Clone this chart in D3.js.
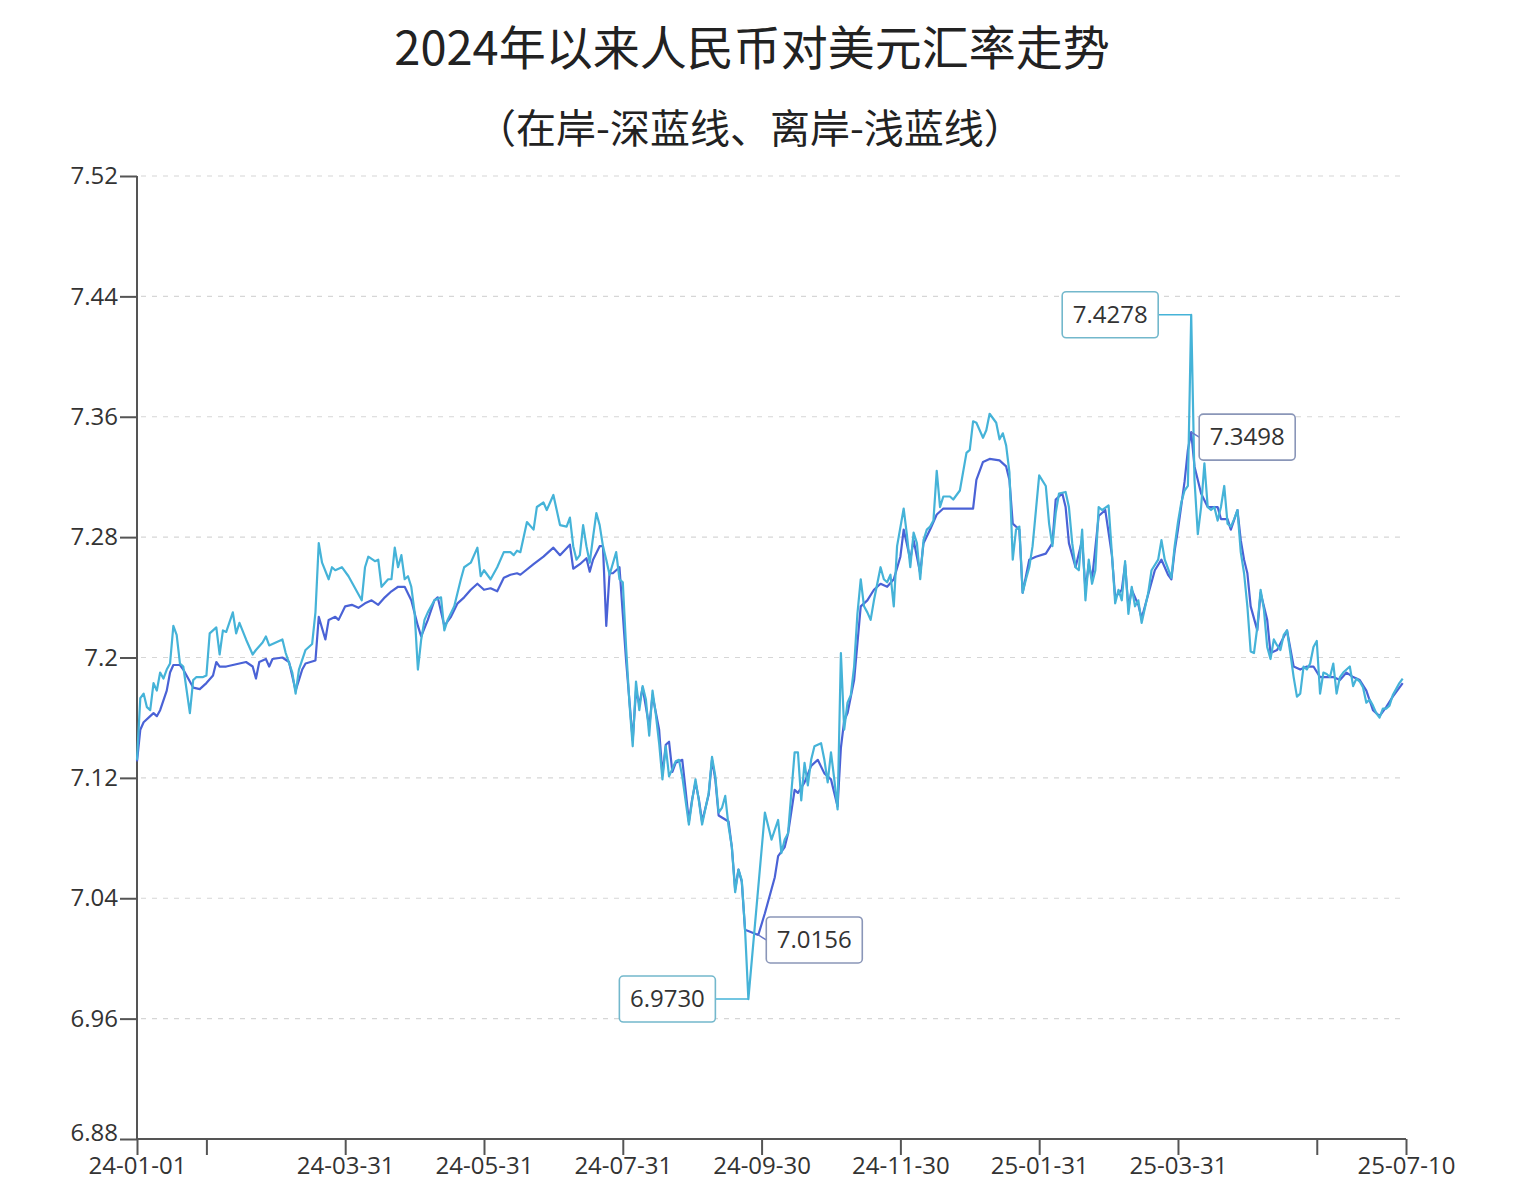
<!DOCTYPE html>
<html>
<head>
<meta charset="utf-8">
<script src="https://cdn.jsdelivr.net/npm/d3@7"></script>
<style>
  body { margin: 0; background: #fff; }
  svg { display: block; }
</style>
</head>
<body>
<svg id="chart"></svg>
<script>
// titles
const titleText = "2024年以来人民币对美元汇率走势";
const subtitleText = "（在岸-深蓝线、离岸-浅蓝线）";

// axis ticks (x in trading-day index since 2024-01-01)
const yTicks = [6.88, 6.96, 7.04, 7.12, 7.2, 7.28, 7.36, 7.44, 7.52];
const xTickDays = [0, 21, 63, 105, 147, 189, 231, 273, 315, 357, 384];
const xTickLabels = ["24-01-01", "", "24-03-31", "24-05-31", "24-07-31", "24-09-30",
  "24-11-30", "25-01-31", "25-03-31", "", "25-07-10"];

// onshore CNY (dark blue): [trading day, rate]
const onshore = [[0,7.131],[1,7.152],[2,7.157],[4,7.161],[5,7.163],[6,7.161],[7,7.165],[9,7.178],[10,7.190],[11,7.195],[13,7.195],[14,7.192],[17,7.180],[19,7.179],[20,7.181],[21,7.183],[23,7.188],[24,7.197],[25,7.194],[27,7.194],[29,7.195],[33,7.197],[35,7.194],[36,7.186],[37,7.197],[39,7.199],[40,7.194],[41,7.199],[44,7.200],[46,7.197],[48,7.178],[50,7.192],[51,7.196],[54,7.198],[55,7.227],[57,7.212],[58,7.225],[60,7.227],[61,7.225],[63,7.234],[65,7.235],[67,7.233],[69,7.236],[71,7.238],[73,7.235],[75,7.240],[77,7.244],[79,7.247],[81,7.247],[83,7.238],[85,7.221],[86,7.214],[88,7.225],[90,7.238],[91,7.240],[93,7.221],[95,7.227],[97,7.236],[99,7.240],[101,7.245],[103,7.249],[105,7.245],[107,7.246],[109,7.244],[111,7.253],[113,7.255],[115,7.256],[116,7.255],[120,7.262],[123,7.267],[126,7.273],[128,7.268],[131,7.275],[132,7.259],[134,7.262],[136,7.266],[137,7.257],[138,7.265],[140,7.274],[141,7.274],[142,7.221],[143,7.256],[144,7.256],[146,7.260],[147,7.229],[148,7.198],[150,7.145],[151,7.178],[152,7.169],[153,7.180],[155,7.154],[156,7.175],[158,7.152],[159,7.122],[160,7.142],[161,7.144],[162,7.124],[163,7.130],[165,7.132],[166,7.112],[167,7.091],[168,7.106],[169,7.117],[170,7.106],[171,7.091],[173,7.109],[174,7.132],[175,7.119],[176,7.095],[179,7.091],[180,7.074],[181,7.046],[182,7.059],[183,7.051],[184,7.019],[188,7.0156],[190,7.030],[192,7.046],[193,7.054],[194,7.068],[196,7.074],[197,7.083],[199,7.112],[200,7.110],[202,7.117],[204,7.128],[206,7.132],[208,7.123],[210,7.119],[212,7.101],[213,7.140],[214,7.158],[215,7.163],[217,7.185],[219,7.234],[221,7.238],[223,7.245],[225,7.249],[227,7.247],[229,7.252],[231,7.267],[232,7.285],[234,7.265],[235,7.278],[237,7.256],[238,7.276],[240,7.285],[242,7.295],[244,7.299],[253,7.299],[254,7.318],[256,7.330],[258,7.332],[261,7.331],[263,7.327],[264,7.318],[265,7.289],[267,7.285],[268,7.243],[270,7.265],[272,7.267],[275,7.269],[277,7.276],[278,7.305],[280,7.309],[281,7.300],[282,7.276],[284,7.260],[286,7.278],[287,7.245],[288,7.262],[289,7.252],[291,7.294],[293,7.298],[295,7.268],[296,7.240],[298,7.245],[299,7.262],[300,7.233],[301,7.245],[303,7.235],[304,7.226],[306,7.242],[308,7.258],[310,7.265],[312,7.255],[313,7.252],[314,7.271],[315,7.285],[316,7.301],[317,7.317],[318,7.338],[319,7.3498],[320,7.327],[322,7.309],[324,7.300],[327,7.300],[328,7.292],[330,7.292],[331,7.285],[333,7.298],[334,7.278],[335,7.265],[336,7.256],[337,7.234],[339,7.218],[340,7.243],[342,7.225],[343,7.203],[345,7.205],[348,7.218],[350,7.194],[352,7.192],[354,7.194],[356,7.194],[358,7.187],[360,7.187],[362,7.187],[364,7.185],[366,7.190],[368,7.187],[370,7.185],[372,7.178],[374,7.165],[376,7.161],[378,7.167],[380,7.174],[383,7.183]];

// offshore CNH (light blue): [trading day, rate]
const offshore = [[0,7.132],[1,7.173],[2,7.176],[3,7.167],[4,7.165],[5,7.183],[6,7.178],[7,7.190],[8,7.186],[9,7.192],[10,7.196],[11,7.221],[12,7.215],[13,7.196],[14,7.194],[16,7.163],[17,7.185],[18,7.187],[20,7.187],[21,7.188],[22,7.216],[24,7.220],[25,7.202],[26,7.218],[27,7.217],[29,7.230],[30,7.216],[31,7.223],[33,7.212],[35,7.202],[36,7.205],[38,7.210],[39,7.214],[40,7.208],[42,7.210],[44,7.212],[45,7.203],[47,7.190],[48,7.176],[49,7.192],[51,7.205],[53,7.209],[54,7.230],[55,7.276],[56,7.263],[58,7.252],[59,7.260],[60,7.258],[62,7.260],[64,7.254],[65,7.250],[68,7.238],[69,7.260],[70,7.267],[72,7.264],[73,7.265],[74,7.247],[76,7.252],[77,7.252],[78,7.273],[79,7.260],[80,7.268],[81,7.252],[82,7.254],[83,7.247],[84,7.230],[85,7.192],[86,7.212],[87,7.225],[88,7.230],[90,7.238],[92,7.240],[93,7.218],[94,7.225],[96,7.234],[98,7.252],[99,7.260],[101,7.263],[103,7.273],[104,7.254],[105,7.258],[107,7.252],[109,7.260],[111,7.270],[113,7.270],[114,7.268],[115,7.271],[116,7.270],[118,7.290],[120,7.285],[121,7.300],[123,7.303],[124,7.298],[126,7.308],[127,7.298],[128,7.288],[130,7.287],[131,7.293],[132,7.274],[133,7.265],[134,7.268],[135,7.288],[136,7.274],[137,7.263],[138,7.280],[139,7.296],[140,7.288],[141,7.274],[142,7.265],[143,7.255],[145,7.270],[146,7.252],[147,7.250],[148,7.207],[149,7.170],[150,7.141],[151,7.184],[152,7.165],[153,7.181],[154,7.172],[155,7.148],[156,7.178],[157,7.162],[158,7.143],[159,7.119],[160,7.141],[161,7.121],[163,7.131],[164,7.132],[165,7.121],[167,7.089],[168,7.105],[169,7.119],[170,7.105],[171,7.089],[173,7.110],[174,7.134],[175,7.121],[176,7.097],[177,7.100],[178,7.108],[179,7.088],[180,7.074],[181,7.044],[182,7.059],[183,7.052],[184,7.019],[185,6.9730],[190,7.097],[191,7.088],[192,7.079],[194,7.092],[195,7.070],[196,7.079],[197,7.083],[199,7.137],[200,7.137],[201,7.105],[202,7.130],[203,7.115],[204,7.132],[205,7.141],[207,7.143],[208,7.132],[209,7.117],[210,7.137],[211,7.119],[212,7.099],[213,7.203],[214,7.152],[215,7.170],[216,7.175],[217,7.194],[218,7.229],[219,7.252],[220,7.234],[221,7.230],[222,7.225],[223,7.238],[225,7.260],[226,7.252],[227,7.250],[228,7.255],[229,7.234],[230,7.274],[232,7.299],[233,7.281],[234,7.260],[235,7.283],[236,7.276],[237,7.252],[238,7.278],[239,7.285],[240,7.287],[241,7.291],[242,7.324],[243,7.300],[244,7.307],[246,7.307],[247,7.305],[249,7.311],[251,7.336],[252,7.338],[253,7.357],[254,7.356],[256,7.346],[257,7.351],[258,7.362],[260,7.356],[261,7.345],[262,7.349],[263,7.341],[264,7.323],[265,7.265],[266,7.285],[267,7.287],[268,7.243],[269,7.252],[270,7.260],[271,7.274],[273,7.321],[275,7.314],[276,7.289],[277,7.274],[278,7.296],[279,7.309],[281,7.310],[282,7.300],[283,7.276],[284,7.260],[285,7.258],[286,7.285],[287,7.238],[288,7.265],[289,7.249],[290,7.258],[291,7.300],[292,7.298],[294,7.301],[295,7.269],[296,7.236],[297,7.245],[298,7.238],[299,7.264],[300,7.229],[301,7.247],[302,7.234],[303,7.238],[304,7.223],[306,7.243],[307,7.258],[309,7.265],[310,7.278],[311,7.265],[313,7.253],[314,7.274],[315,7.290],[316,7.303],[317,7.311],[318,7.314],[319,7.4278],[320,7.318],[321,7.282],[322,7.300],[323,7.329],[324,7.300],[325,7.298],[326,7.300],[327,7.291],[328,7.300],[329,7.314],[330,7.289],[331,7.287],[332,7.292],[333,7.298],[334,7.270],[335,7.256],[336,7.234],[337,7.204],[338,7.203],[339,7.220],[340,7.245],[341,7.232],[342,7.207],[343,7.199],[344,7.212],[345,7.208],[346,7.205],[347,7.215],[348,7.218],[349,7.203],[350,7.187],[351,7.174],[352,7.176],[353,7.194],[354,7.192],[355,7.196],[356,7.207],[357,7.211],[358,7.176],[359,7.190],[360,7.189],[361,7.187],[362,7.196],[363,7.176],[364,7.187],[365,7.190],[366,7.192],[367,7.194],[368,7.181],[369,7.186],[370,7.184],[371,7.180],[372,7.170],[373,7.172],[374,7.168],[375,7.163],[376,7.160],[377,7.166],[378,7.166],[379,7.168],[380,7.175],[381,7.179],[382,7.183],[383,7.186]];

// highlighted extremes
const markLabels = ["6.9730", "7.0156", "7.4278", "7.3498"];
const markDays = [185, 188, 319, 319];
const markValues = [6.9730, 7.0156, 7.4278, 7.3498];
const markSeries = ["offshore", "onshore", "offshore", "onshore"];

const width = 1518, height = 1182;
const plotLeft = 137, plotRight = 1406, plotTop = 176, plotBottom = 1139;
const darkBlue = "#4a62d6", lightBlue = "#45b3d8";
const numFont = "'Open Sans', 'Noto Sans', sans-serif";
const cjkFont = "'Noto Sans CJK SC', 'Noto Sans', sans-serif";

const svg = d3.select("#chart")
  .attr("width", width)
  .attr("height", height)
  .style("background", "#fff");

const x = d3.scaleLinear().domain([0, 384]).range([plotLeft, plotRight]);
const y = d3.scaleLinear().domain([6.88, 7.52]).range([plotBottom, plotTop]);

// title + subtitle
svg.append("text")
  .attr("x", 752).attr("y", 65)
  .attr("text-anchor", "middle")
  .style("font-family", cjkFont)
  .style("font-size", "47px")
  .style("fill", "#222")
  .text(titleText);

svg.append("text")
  .attr("x", 750).attr("y", 143)
  .attr("text-anchor", "middle")
  .style("font-family", cjkFont)
  .style("font-size", "40px")
  .style("fill", "#222")
  .text(subtitleText);

// dashed gridlines
svg.append("g")
  .selectAll("line")
  .data(yTicks.filter(d => d > 6.88))
  .join("line")
  .attr("x1", plotLeft + 4).attr("x2", plotRight)
  .attr("y1", d => y(d)).attr("y2", d => y(d))
  .attr("stroke", "#d6d6d6")
  .attr("stroke-width", 1.2)
  .attr("stroke-dasharray", "5,6");

// y axis
const yAxis = svg.append("g")
  .attr("transform", `translate(${plotLeft},0)`)
  .call(d3.axisLeft(y)
    .tickValues(yTicks)
    .tickSize(17)
    .tickPadding(2)
    .tickFormat(d => String(+d.toFixed(2))));

// x axis
const xAxis = svg.append("g")
  .attr("transform", `translate(0,${plotBottom})`)
  .call(d3.axisBottom(x)
    .tickValues(xTickDays)
    .tickSize(16)
    .tickPadding(2)
    .tickFormat((d, i) => xTickLabels[i]));

[yAxis, xAxis].forEach(ax => {
  ax.select(".domain").attr("stroke", "#555").attr("stroke-width", 2);
  ax.selectAll(".tick line").attr("stroke", "#555").attr("stroke-width", 2);
  ax.selectAll(".tick text")
    .style("font-family", numFont)
    .style("font-size", "24px")
    .style("fill", "#333");
});
// lift the lowest y label a little so it clears the first date label
yAxis.selectAll(".tick text").filter(d => d === 6.88).attr("y", -6);

// axis domain without outer ticks
yAxis.select(".domain").attr("d", `M0,${plotTop}V${plotBottom}`);
xAxis.select(".domain").attr("d", `M${plotLeft},0H${plotRight}`);

// lines
const line = d3.line()
  .x(d => x(d[0]))
  .y(d => y(d[1]));

svg.append("path")
  .datum(onshore)
  .attr("d", line)
  .attr("fill", "none")
  .attr("stroke", darkBlue)
  .attr("stroke-width", 2.2)
  .attr("stroke-linejoin", "round");

svg.append("path")
  .datum(offshore)
  .attr("d", line)
  .attr("fill", "none")
  .attr("stroke", lightBlue)
  .attr("stroke-width", 2.2)
  .attr("stroke-linejoin", "round");

// marker labels with leader lines
const marks = svg.append("g");
markLabels.forEach((label, i) => {
  const px = x(markDays[i]);
  const py = y(markValues[i]);
  const isOff = markSeries[i] === "offshore";
  const onLeft = isOff;               // offshore boxes sit to the left
  const gap = isOff ? 33 : 8;
  const boxW = 96, boxH = 46;
  const bx = onLeft ? px - gap - boxW : px + gap;
  const by = py - boxH / 2 + (isOff ? 0 : 5);
  const edgeX = onLeft ? bx + boxW : bx;

  marks.append("path")
    .attr("d", `M${px},${py}L${edgeX},${by + boxH / 2}`)
    .attr("fill", "none")
    .attr("stroke", isOff ? lightBlue : "#6878c8")
    .attr("stroke-width", 1.5);

  marks.append("rect")
    .attr("x", bx).attr("y", by)
    .attr("width", boxW).attr("height", boxH)
    .attr("rx", 4)
    .attr("fill", "#fff")
    .attr("stroke", isOff ? "#73b8cc" : "#8a96b8")
    .attr("stroke-width", 1.6);

  marks.append("text")
    .attr("x", bx + boxW / 2).attr("y", by + boxH / 2)
    .attr("dy", "0.35em")
    .attr("text-anchor", "middle")
    .style("font-family", numFont)
    .style("font-size", "24px")
    .style("fill", "#333")
    .text(label);
});
</script>
</body>
</html>
